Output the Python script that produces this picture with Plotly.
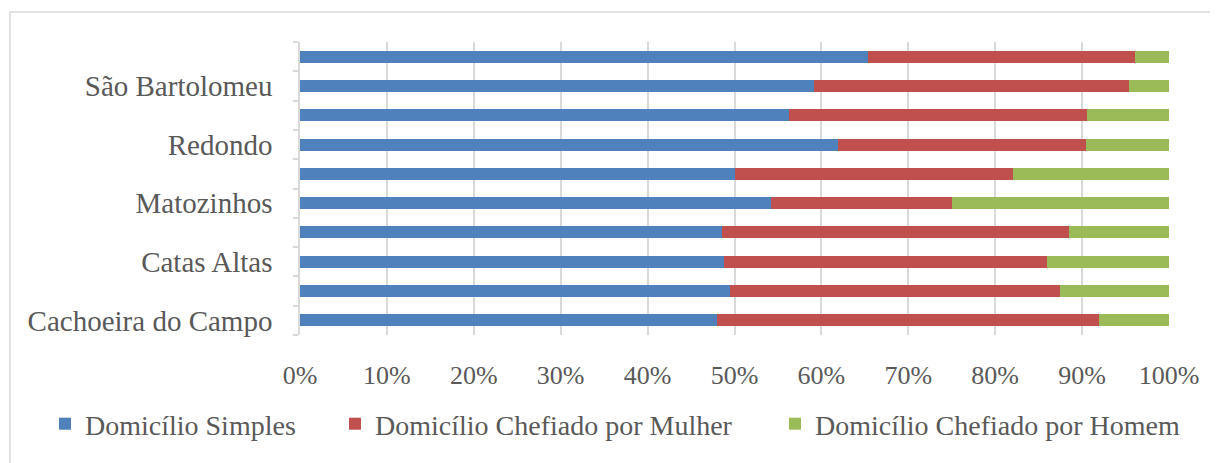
import plotly.graph_objects as go

# categories listed from bottom to top
categories = ["Cachoeira do Campo", "Antônio Pereira", "Catas Altas", "Itaverava",
              "Matozinhos", "Passagem", "Redondo", "Santa Rita", "São Bartolomeu", "Sumidouro"]
shown_labels = ["Cachoeira do Campo", "", "Catas Altas", "", "Matozinhos", "",
                "Redondo", "", "São Bartolomeu", ""]
simples = [48.0, 49.5, 48.8, 48.6, 54.2, 50.0, 61.9, 56.3, 59.1, 65.4]
mulher = [44.0, 37.9, 37.2, 39.9, 20.8, 32.1, 28.6, 34.3, 36.3, 30.7]
homem = [8.0, 12.6, 14.0, 11.5, 25.0, 17.9, 9.5, 9.4, 4.6, 3.9]
x_ticks = [0, 10, 20, 30, 40, 50, 60, 70, 80, 90, 100]
x_tick_text = ["0%", "10%", "20%", "30%", "40%", "50%", "60%", "70%", "80%", "90%", "100%"]

series = [
    ("Domicílio Simples", simples, "#4F81BD", "legend", 37),
    ("Domicílio Chefiado por Mulher", mulher, "#C0504D", "legend2", 327),
    ("Domicílio Chefiado por Homem", homem, "#9BBB59", "legend3", 767),
]

FONT = "Liberation Serif"
GREY = "#595959"
W, H = 1210, 455  # page body has an 8px margin

fig = go.Figure()
legends = {}
for name, vals, color, leg, lx in series:
    fig.add_trace(go.Bar(
        y=categories, x=vals, name=name, orientation="h", legend=leg,
        marker=dict(color=color, line=dict(width=0)),
    ))
    legends[leg] = dict(orientation="h", xref="container", yref="container",
                        x=lx / W, xanchor="left", y=1 - 416 / H, yanchor="middle",
                        font=dict(family=FONT, size=28, color=GREY),
                        bgcolor="rgba(0,0,0,0)")

fig.update_layout(
    barmode="stack",
    bargap=0.59,
    width=W, height=H,
    margin=dict(l=292, r=49, t=34, b=128, autoexpand=False),
    paper_bgcolor="white", plot_bgcolor="white",
    font=dict(family=FONT, size=26, color=GREY),
    showlegend=True,
    **legends,
    xaxis=dict(range=[0, 100], tickvals=x_ticks, ticktext=x_tick_text,
               showgrid=True, gridcolor="#d9d9d9", gridwidth=1.5,
               zeroline=False, showline=False, ticks="", automargin=False,
               ticklabelstandoff=22,
               tickfont=dict(family=FONT, size=26, color=GREY)),
    yaxis=dict(type="category", categoryorder="array", categoryarray=categories,
               tickvals=categories, ticktext=shown_labels, tickson="boundaries",
               ticks="outside", ticklen=5, tickcolor="#d9d9d9", tickwidth=1.5,
               showline=True, linecolor="#d9d9d9", linewidth=1.5,
               showgrid=False, zeroline=False, automargin=False,
               ticklabelstandoff=20,
               tickfont=dict(family=FONT, size=29, color=GREY)),
    shapes=[dict(type="rect", xref="paper", yref="paper",
                 x0=(2 - 292) / 869, x1=1.2, y0=-1.0, y1=1 + 30 / 293,
                 line=dict(color="#d9d9d9", width=1.5), fillcolor="rgba(0,0,0,0)",
                 layer="below")],
)

fig.write_html("out.html")
